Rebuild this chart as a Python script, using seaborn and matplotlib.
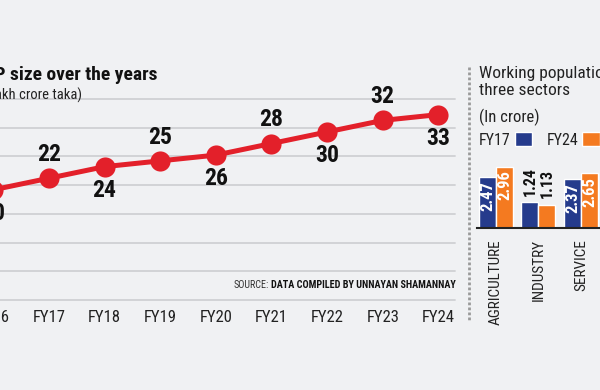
import pandas as pd
import matplotlib.pyplot as plt
import seaborn as sns
from matplotlib.lines import Line2D
import numpy as np

# GDP (lakh crore taka)
years = ['FY16', 'FY17', 'FY18', 'FY19', 'FY20', 'FY21', 'FY22', 'FY23', 'FY24']
gdp = [20, 22, 24, 25, 26, 28, 30, 32, 33]

# Working population (crore)
sectors = ['AGRICULTURE', 'INDUSTRY', 'SERVICE']
pop_fy17 = [2.47, 1.24, 2.37]
pop_fy24 = [2.96, 1.13, 2.65]

BG = '#f0f1f3'
RED = '#e3202a'
BLUE = '#253b8c'
ORANGE = '#f47a20'
FONT = ['Roboto Condensed', 'Oswald', 'DejaVu Sans']

sns.set_style('white')
plt.rcParams['font.family'] = FONT
plt.rcParams['axes.facecolor'] = BG

df_gdp = pd.DataFrame({'year': years, 'gdp': gdp})
df_pop = pd.DataFrame({
    'sector': sectors * 2,
    'year': ['FY17'] * 3 + ['FY24'] * 3,
    'pop': pop_fy17 + pop_fy24,
})

fig = plt.figure(figsize=(6, 3.9), dpi=100, facecolor=BG)

# ---- left: GDP line
ax = fig.add_axes([-40 / 600, 90 / 390, 495 / 600, 201 / 390])
sns.lineplot(data=df_gdp, x='year', y='gdp', ax=ax, color=RED, lw=3.6,
             marker='o', markersize=14.5, markeredgewidth=0, sort=False)
ax.set_xlim(-0.6, 8.3)
ax.set_ylim(0.94, 35.7)
ax.set_yticks(np.linspace(0.94, 35.7, 8))
ax.set_yticklabels([])
ax.tick_params(axis='y', length=0)
ax.grid(axis='y', color='#cfd0d3', lw=1.3)
for gl in ax.yaxis.get_gridlines():
    gl.set_clip_on(False)
for s in ax.spines.values():
    s.set_visible(False)
ax.set_xlabel('')
ax.set_ylabel('')
ax.set_xticks(range(len(years)))
ax.set_xticklabels(years, fontsize=12, color='#222222')
ax.tick_params(axis='x', which='major', length=0, pad=7)
ax.set_xticks(np.arange(len(years) - 1) + 0.5, minor=True)
ax.tick_params(axis='x', which='minor', direction='inout', length=20, width=1.6, color='#222222')

for i, v in enumerate(gdp):
    off = 17 if i % 2 == 1 else -17
    ax.annotate(str(v), (i, v), xytext=(0, off), textcoords='offset points',
                ha='center', va='center', fontsize=17, fontweight='bold', color='#111111')

fig.text(157 / 600, 1 - 75 / 390, 'GDP size over the years', ha='right', va='center',
         fontsize=14, fontweight='bold', color='#111111')
fig.text(82 / 600, 1 - 95 / 390, '(In lakh crore taka)', ha='right', va='center',
         fontsize=10.5, color='#222222')

# source line
src = fig.text(456 / 600, 1 - 285 / 390, 'DATA COMPILED BY UNNAYAN SHAMANNAY', ha='right',
               va='center', fontsize=7.3, fontweight='bold', color='#111111')
fig.canvas.draw()
bb = src.get_window_extent(fig.canvas.get_renderer())
fig.text(bb.x0 / fig.bbox.width - 0.004, 1 - 285 / 390, 'SOURCE:', ha='right', va='center',
         fontsize=7.3, color='#333333')

# divider
fig.add_artist(Line2D([469 / 600, 469 / 600], [1 - 67 / 390, 1 - 320 / 390],
                      transform=fig.transFigure, color='#9a9a9a', lw=2, ls=(0, (1, 0.8))))

# ---- right: working population bars
ax2 = fig.add_axes([477 / 600, 162 / 390, 163 / 600, 72 / 390])
sns.barplot(data=df_pop, x='sector', y='pop', hue='year', ax=ax2,
            palette=[BLUE, ORANGE], saturation=1, width=0.8, legend=True)
ax2.set_xlim(-0.447, 3.39)
ax2.set_ylim(0, 3.5)
ax2.set_facecolor('none')
for s in ['top', 'right', 'left']:
    ax2.spines[s].set_visible(False)
ax2.spines['bottom'].set_color('#222222')
ax2.spines['bottom'].set_linewidth(1.5)
ax2.set_yticks([])
ax2.set_xlabel('')
ax2.set_ylabel('')
ax2.set_xticks(range(len(sectors)))
ax2.set_xticklabels(sectors, rotation=90, fontsize=11, color='#222222')
ax2.tick_params(axis='x', which='major', length=0, pad=8)
ax2.set_xticks([0.5, 1.5], minor=True)
ax2.tick_params(axis='x', which='minor', direction='inout', length=17, width=1.6, color='#222222')

for cont in ax2.containers:
    for bar, cat in zip(cont, sectors):
        h = bar.get_height()
        x = bar.get_x() + bar.get_width() / 2
        if cat == 'INDUSTRY':
            ax2.annotate(f'{h:.2f}', (x, h), xytext=(0, 5), textcoords='offset points',
                         rotation=90, ha='center', va='bottom', fontsize=11.5,
                         fontweight='bold', color='#111111')
        else:
            ax2.annotate(f'{h:.2f}', (x, h), xytext=(0, -2.5), textcoords='offset points',
                         rotation=90, ha='center', va='top', fontsize=12,
                         fontweight='bold', color='white')

leg = ax2.legend(markerfirst=False, ncol=2, frameon=False, loc='center left',
                 bbox_to_anchor=(479 / 600, 1 - 140 / 390), bbox_transform=fig.transFigure,
                 borderpad=0, borderaxespad=0, handlelength=1.1, handleheight=0.9,
                 handletextpad=0.25, columnspacing=0.9, fontsize=11.5)
for t in leg.get_texts():
    t.set_color('#222222')

fig.text(479 / 600, 1 - 66 / 390, 'Working population in\nthree sectors', ha='left', va='top',
         fontsize=12.5, color='#222222', linespacing=1.2)
fig.text(479 / 600, 1 - 117 / 390, '(In crore)', ha='left', va='center',
         fontsize=12, color='#222222')

fig.savefig('out.png', dpi=100, facecolor=BG)
